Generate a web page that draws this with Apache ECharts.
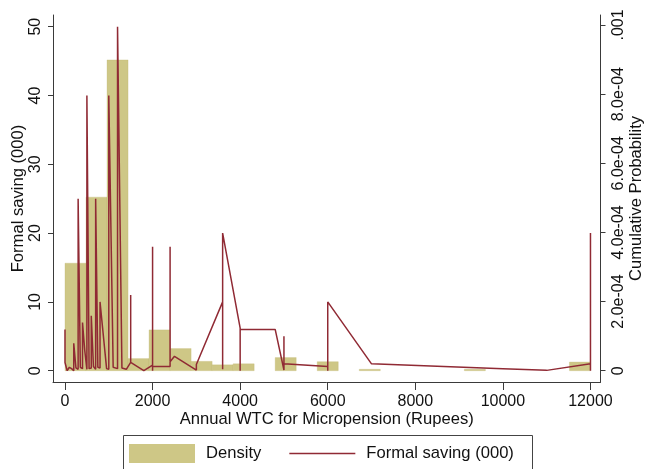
<!DOCTYPE html>
<html>
<head>
<meta charset="utf-8">
<script src="https://cdn.jsdelivr.net/npm/echarts@6/dist/echarts.min.js"></script>
<style>
html,body{margin:0;padding:0;background:#fff;}
#chart{width:649px;height:469px;}
</style>
</head>
<body>
<div id="chart"></div>
<script>
// ---- Histogram (density of Annual WTC) ----
const binLower = [0, 480, 960, 1440, 1920, 2400, 2880, 3360, 3840, 4320, 4800, 5280, 5760, 6240, 6720, 7200, 7680, 8160, 8640, 9120, 9600, 10080, 10560, 11040, 11520];
const binUpper = [480, 960, 1440, 1920, 2400, 2880, 3360, 3840, 4320, 4800, 5280, 5760, 6240, 6720, 7200, 7680, 8160, 8640, 9120, 9600, 10080, 10560, 11040, 11520, 12000];
const density  = [0.000311, 0.000502, 0.000899, 0.000035, 0.000118, 0.000064, 0.000027, 0.000017, 0.000020, 0, 0.000038, 0, 0.000026, 0, 0.000004, 0, 0, 0, 0, 0.000004, 0, 0, 0, 0, 0.000025];

// ---- Formal saving (000) by WTC (observations, sorted by WTC) ----
const wtc    = [0, 0, 50, 100, 150, 200, 200, 250, 300, 300, 350, 400, 400, 450, 500, 500, 550, 600, 600, 650, 700, 700, 750, 800, 800, 950, 1000, 1000, 1100, 1200, 1200, 1300, 1400, 1500, 1500, 1500, 1800, 2000, 2000, 2000, 2000, 2400, 2400, 2400, 2500, 3000, 3000, 3600, 3600, 3600, 4000, 4000, 4000, 4800, 5000, 5000, 5000, 6000, 6000, 6000, 7000, 10000, 11000, 12000, 12000, 12000];
const saving = [6, 1.2, 0, 0.5, 0.3, 0, 4, 0.4, 0.2, 25, 0.5, 0.3, 7, 3, 0.2, 40, 0.3, 0.4, 8, 0.6, 0.2, 25, 0.5, 0.4, 10, 0.3, 0.2, 40, 0.5, 0.3, 50, 0.4, 0.2, 1.2, 11, 1.2, 0, 0.8, 18, 0, 0.6, 0.6, 18, 1.3, 2.1, 0.1, 0.9, 10, 0.2, 20, 6.2, 0, 6, 6, 0.1, 5, 1, 0.6, 0, 10, 1, 0.3, 0.05, 1, 0, 20];

// ---- Tick labels ----
const xTicks = [0, 2000, 4000, 6000, 8000, 10000, 12000];
const savingTicks = [0, 10, 20, 30, 40, 50];
const probTicks = [0, 0.0002, 0.0004, 0.0006, 0.0008, 0.001];
const probTickLabels = ['0', '2.0e-04', '4.0e-04', '6.0e-04', '8.0e-04', '.001'];

const FONT = '"Liberation Sans", Arial, Helvetica, sans-serif';
const BAR = 'rgb(206,199,134)';
const LINE = 'rgb(144,42,52)';
const AXIS = '#3a3a3a';

const histData = binLower.map((lo, i) => [lo, binUpper[i], density[i]]).filter(d => d[2] > 0);
const lineData = wtc.map((x, i) => [x, saving[i]]);

const chart = echarts.init(document.getElementById('chart'), null, {renderer: 'canvas'});
chart.setOption({
  animation: false,
  backgroundColor: '#fff',
  textStyle: {fontFamily: FONT},
  grid: {left: 53, top: 15, right: 48.5, bottom: 87, containLabel: false, outerBoundsMode: 'none'},
  xAxis: {
    type: 'value', min: -274, max: 12229,
    name: 'Annual WTC for Micropension (Rupees)', nameLocation: 'middle', nameGap: 29, nameMoveOverlap: false,
    nameTextStyle: {fontSize: 16.6, color: '#111', fontFamily: FONT},
    axisLine: {show: true, onZero: false, lineStyle: {color: AXIS, width: 1}},
    axisTick: {show: true, length: 8, customValues: xTicks, lineStyle: {color: AXIS}},
    axisLabel: {show: true, customValues: xTicks, margin: 12, fontSize: 16, color: '#111', fontFamily: FONT,
      formatter: function (v) { return String(v); }},
    splitLine: {show: false}
  },
  yAxis: [
    {
      type: 'value', position: 'left', min: -1.64, max: 51.7,
      name: 'Formal saving (000)', nameLocation: 'middle', nameGap: 26, nameRotate: 90, nameMoveOverlap: false,
      nameTextStyle: {fontSize: 16.6, color: '#111', fontFamily: FONT},
      axisLine: {show: true, onZero: false, lineStyle: {color: AXIS, width: 1}},
      axisTick: {show: true, length: 5, customValues: savingTicks, lineStyle: {color: AXIS}},
      axisLabel: {show: true, customValues: savingTicks, rotate: 90, margin: 9, fontSize: 16, color: '#111', fontFamily: FONT,
        formatter: function (v) { return String(v); }},
      splitLine: {show: false}
    },
    {
      type: 'value', position: 'right', min: -0.0000327, max: 0.0010289,
      name: 'Cumulative Probability', nameLocation: 'middle', nameGap: 27, nameRotate: 90, nameMoveOverlap: false,
      nameTextStyle: {fontSize: 16.6, color: '#111', fontFamily: FONT},
      axisLine: {show: true, onZero: false, lineStyle: {color: AXIS, width: 1}},
      axisTick: {show: true, length: 5, customValues: probTicks, lineStyle: {color: AXIS}},
      axisLabel: {
        show: true, customValues: probTicks, rotate: 90, margin: 10, fontSize: 16, color: '#111', fontFamily: FONT,
        formatter: function (v) {
          let best = 0;
          for (let i = 0; i < probTicks.length; i++) {
            if (Math.abs(probTicks[i] - v) < Math.abs(probTicks[best] - v)) best = i;
          }
          return probTickLabels[best];
        }
      },
      splitLine: {show: false}
    }
  ],
  legend: {
    left: 129, top: 444, padding: 0,
    itemWidth: 66, itemHeight: 19, itemGap: 28,
    textStyle: {fontSize: 16.6, color: '#111', fontFamily: FONT, padding: [0, 0, 0, 6]},
    data: [
      {name: 'Density', icon: 'rect'},
      {name: 'Formal saving (000)', icon: 'path://M0,0 L44,0 L44,1 L0,1 Z', itemStyle: {color: LINE}}
    ]
  },
  graphic: [{
    type: 'rect', silent: true, z: -1,
    shape: {x: 123.5, y: 435.5, width: 409, height: 60},
    style: {fill: 'none', stroke: '#444', lineWidth: 1}
  }],
  series: [
    {
      name: 'Density', type: 'custom', xAxisIndex: 0, yAxisIndex: 1,
      itemStyle: {color: BAR},
      data: histData,
      encode: {x: [0, 1], y: 2},
      renderItem: function (params, api) {
        const p0 = api.coord([api.value(0), api.value(2)]);
        const p1 = api.coord([api.value(1), 0]);
        return {
          type: 'rect',
          shape: {x: p0[0], y: p0[1], width: p1[0] - p0[0], height: p1[1] - p0[1]},
          style: {fill: BAR, stroke: 'rgba(190,182,110,0.6)', lineWidth: 0.5}
        };
      },
      z: 1
    },
    {
      name: 'Formal saving (000)', type: 'line', xAxisIndex: 0, yAxisIndex: 0,
      data: lineData, showSymbol: false, symbol: 'none',
      lineStyle: {color: LINE, width: 1.5},
      itemStyle: {color: LINE},
      z: 3
    }
  ]
});
</script>
</body>
</html>
